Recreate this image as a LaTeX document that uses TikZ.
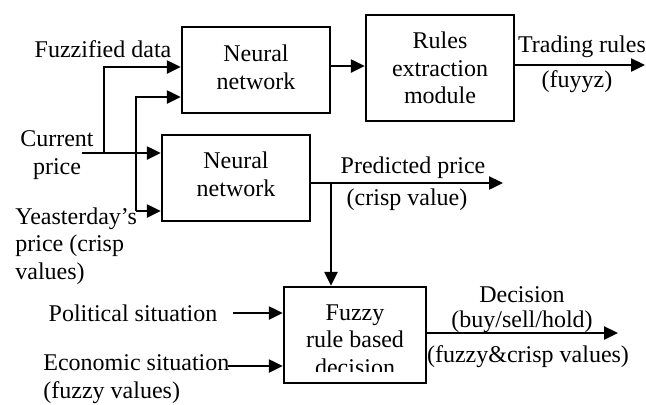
\documentclass[tikz,border=0pt]{standalone}
\usepackage{fontspec}
\setmainfont{Liberation Serif}
\usetikzlibrary{arrows.meta}
\begin{document}
\begin{tikzpicture}[x=0.5pt,y=-0.5pt,
  box/.style={draw,line width=1.2pt,inner sep=0pt},
  lbl/.style={inner sep=0pt,align=center,font=\fontsize{12}{13.8}\selectfont},
  lbll/.style={inner sep=0pt,align=left,anchor=west,font=\fontsize{12}{13.8}\selectfont},
  arr/.style={line width=1.2pt,-{Triangle[length=7pt,width=6.5pt]}},
  ln/.style={line width=1.2pt}]
\useasboundingbox (0,0) rectangle (646,404);
% boxes
\node[box,minimum width=74pt,minimum height=43pt] (nn1) at (256,70) {};
\node[box,minimum width=74pt,minimum height=53pt] (rules) at (440,68) {};
\node[box,minimum width=74pt,minimum height=43pt] (nn2) at (236,178) {};
\node[box,minimum width=71pt,minimum height=48pt] (fuzzy) at (355,335) {};
% box texts
\node[lbl] (t1) at (256,67) {Neural\\network};
\node[lbl] (t2) at (440,68) {Rules\\extraction\\module};
\node[lbl] (t3) at (236,174) {Neural\\network};
\node[lbl] (t4) at (355,340) {Fuzzy\\rule based\\decision};
\fill[white] (286,372) rectangle (424,381.3);
% labels
\node[lbl] (lfd) at (103,49) {Fuzzified data};
\node[lbl] (lcp) at (57,155) {Current\\price};
\node[lbll] (lyp) at (15,246) {Yeasterday’s\\price (crisp\\values)};
\node[lbl] (lpol) at (133,313) {Political situation};
\node[lbll] (leco) at (43,379) {Economic situation\\(fuzzy values)};
\node[lbl] (ltr) at (582,47) {Trading rules};
\node[lbl] (lfz) at (577,82) {(fuyyz)};
\node[lbl] (lpp) at (413,168) {Predicted price};
\node[lbl] (lcv) at (407,200) {(crisp value)};
\node[lbl] (ldec) at (522,295) {Decision};
\node[lbl] (lbsh) at (522,322) {(buy/sell/hold)};
\node[lbl] (lfc) at (528,357) {(fuzzy\&crisp values)};
% coordinates
\coordinate (cp) at (82,153);
\coordinate (j1) at (104,153);
\coordinate (yp) at (136,211);
\coordinate (tr) at (645,65);
\coordinate (pp) at (503,183);
\coordinate (j2) at (331,183);
\coordinate (pol) at (233,313);
\coordinate (eco) at (228,366);
\coordinate (dec) at (618,333);
% connectors
\draw[arr] (nn1.east |- 0,66) -- (rules.west |- 0,66);
\draw[arr] (rules.east |- tr) -- (tr);
\draw[arr] (cp) -- (nn2.west |- cp);
\draw[arr] (j1) |- (nn1.west |- 0,67);
\draw[arr] (yp) -- (nn2.west |- yp);
\draw[arr] (yp) |- (nn1.west |- 0,97);
\draw[arr] (nn2.east |- pp) -- (pp);
\draw[arr] (j2) -- (j2 |- fuzzy.north);
\draw[arr] (pol) -- (fuzzy.west |- pol);
\draw[arr] (eco) -- (fuzzy.west |- eco);
\draw[arr] (fuzzy.east |- dec) -- (dec);
\end{tikzpicture}
\end{document}
